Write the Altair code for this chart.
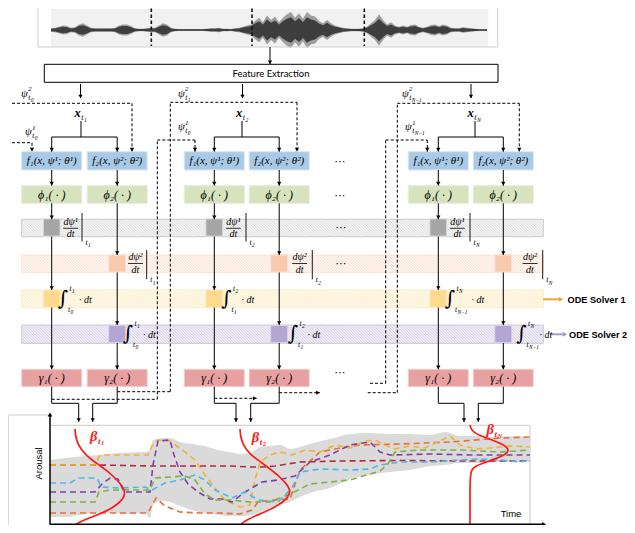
import altair as alt
import pandas as pd

alt.data_transformers.disable_max_rows()

# ---------------- data ----------------
# speech waveform: half-amplitude (px) every 4 px starting at x=51
WAVE_X0, WAVE_STEP, WAVE_CY = 51, 4, 30
wave_amp = [1.5, 2, 3, 4, 3.5, 2, 2.5, 5, 6, 4,
            2, 1.5, 1.5, 1.5, 1.5, 1.5, 2, 4, 5, 5,
            3.5, 1.5, 1.2, 1.2, 1.5, 2, 2, 4, 6, 5,
            2, 1.2, 1, 1, 1, 1, 1, 1, 1, 1.2,
            1.5, 1.5, 2, 1.2, 1.2, 1, 1.5, 2, 3, 4,
            5, 8, 11, 7, 13, 9, 12, 7, 11, 14,
            16, 11, 15, 10, 16, 13, 12, 8, 6, 9,
            6, 4, 3, 2, 1.5, 1.2, 1.2, 1.2, 1.5, 3,
            6, 9, 14, 9, 5, 7, 4, 3, 4, 3,
            4.5, 5, 3, 2, 3, 4.5, 5, 3.5, 5, 4,
            2, 1.5, 1.5, 2.5, 2, 1.5, 1.2, 1, 1, 0.8]
segment_marks = [151.3, 252, 364.3]

# arousal plot: uncertainty ribbon
ribbon_x = [50, 65, 85, 100, 112, 128, 145, 150, 153, 160, 170, 180, 192, 205, 218, 230, 240, 252,
            260, 270, 280, 290, 300, 313, 330, 350, 370, 390, 410, 430, 445, 460, 480, 500, 515, 530]
ribbon_top = [460, 458, 456, 455, 453.5, 452.5, 452, 450, 440, 438.5, 438, 442, 444, 446, 450, 452, 454, 452,
              447, 446, 445, 449, 447, 443, 439, 434, 433, 434, 434, 435, 432, 436, 436, 437, 436, 437]
ribbon_bottom = [517, 517, 514, 513, 513, 514, 513, 518, 505, 501, 502, 506, 510, 513, 515, 516, 516, 515,
                 512, 508, 505, 502, 497, 492, 488, 479, 475, 472, 470, 466, 465, 463, 463, 462, 462, 462]

# arousal traces
orange_x = [50, 100, 148, 152, 156, 165, 180, 200, 220, 240, 252, 258, 275, 290, 300, 320, 340, 360, 400, 450, 500, 530]
orange_y = [513, 513, 513, 505, 498, 506, 512, 513, 513, 514, 510, 502, 500, 499, 470, 452, 448, 445, 444, 442, 438, 437]
red_x = [50, 100, 150, 200, 232, 250, 262, 275, 300, 340, 400, 460, 530]
red_y = [465, 465, 466, 466, 466, 467, 467, 466, 462, 461, 460.5, 461, 461]
yellow_x = [50, 95, 100, 148, 152, 158, 170, 178, 185, 195, 205, 215, 225, 240, 250, 255, 260, 270, 280, 292,
            305, 320, 335, 350, 365, 375, 385, 395, 410, 425, 440, 450, 460, 475, 490, 510, 530]
yellow_y = [465, 465, 455, 455, 446, 440, 441, 447, 452, 460, 475, 488, 500, 507, 505, 480, 462, 455, 452, 455,
            450, 452, 445, 448, 441, 440, 445, 449, 446, 448, 441, 436, 445, 449, 448, 446, 447]
purple_x = [50, 95, 102, 110, 118, 124, 135, 150, 153, 158, 170, 174, 180, 188, 198, 210, 222, 232, 245, 262,
            278, 295, 310, 330, 350, 370, 380, 390, 430, 470, 500, 530]
purple_y = [492, 492, 484, 478, 479, 492, 492, 492, 465, 441, 440, 455, 472, 484, 492, 499, 499, 502, 492, 482,
            480, 476, 462, 455, 445, 442, 452, 455, 454, 455, 455, 455]
cyan_x = [50, 70, 78, 97, 101, 120, 145, 152, 165, 180, 195, 205, 215, 232, 245, 258, 278, 292, 300, 320,
          350, 370, 380, 400, 430, 460, 480, 500, 520, 530]
cyan_y = [483, 483, 478, 478, 487, 488, 487, 490, 483, 480, 475, 480, 490, 498, 492, 500, 502, 488, 472, 469,
          470, 469, 465, 462, 462, 460, 459, 460, 462, 460]
green_x = [50, 95, 99, 110, 150, 155, 170, 185, 195, 205, 215, 230, 250, 270, 290, 300, 310, 330, 350, 370,
           380, 388, 395, 420, 460, 500, 530]
green_y = [502, 502, 492, 490, 490, 478, 477, 476, 480, 494, 500, 500, 502, 502, 494, 489, 484, 482, 480, 474,
           471, 464, 452, 450, 450, 452, 450]
series_names = ["orange", "red", "yellow", "purple", "cyan", "green"]
series_colors = ["#e8703a", "#b5283c", "#f2b430", "#8040a8", "#4cb8ea", "#7fb33f"]

# belief curves beta_t
beta1_x = [75, 75.5, 77.5, 81, 86, 92, 99, 106, 113, 119, 123.5, 125, 123.5, 119, 112, 103, 93, 84, 78, 75.5]
beta1_y = [429, 436, 443, 449, 455, 460, 465, 470, 476, 482, 488, 493, 498, 503, 508, 512.5, 516.5, 520, 523, 525]
beta2_x = [240, 240.5, 242.5, 246, 251, 258, 266, 274, 281, 286.5, 289.5, 290, 288, 283, 275, 265, 255, 247, 242, 240.5]
beta2_y = [429, 436, 443, 449, 455, 460, 466, 472, 478, 484, 489, 492, 497, 502, 507, 512, 516, 520, 523, 525]
betaN_x = [470, 471, 474, 480, 488, 496, 503, 507.5, 508.5, 506, 500, 491, 482, 475, 471.5, 470.5, 470, 470, 470]
betaN_y = [425, 429, 432.5, 435.5, 438.5, 441.5, 444.5, 448, 451, 454, 457, 460.5, 463.5, 466.5, 470, 475, 485, 500, 525]

# ---------------- helpers ----------------
XS = alt.Scale(domain=[8, 627], nice=False, zero=False)
YS = alt.Scale(domain=[8, 525], nice=False, zero=False, reverse=True)


def ex(f="x"):
    return alt.X(f"{f}:Q", scale=XS, axis=None)


def ey(f="y"):
    return alt.Y(f"{f}:Q", scale=YS, axis=None)


layers = []


def rects(rows):
    df = pd.DataFrame(rows, columns=["x", "x2", "y", "y2", "fill", "stroke", "sw"])
    return alt.Chart(df).mark_rect().encode(
        x=ex(), x2="x2:Q", y=ey(), y2="y2:Q",
        fill=alt.Fill("fill:N", scale=None),
        stroke=alt.Stroke("stroke:N", scale=None),
        strokeWidth=alt.StrokeWidth("sw:Q", scale=None))


def rules(segs, dash=None):
    df = pd.DataFrame(segs, columns=["x", "y", "x2", "y2", "color", "sw"])
    kw = {}
    if dash:
        kw["strokeDash"] = dash
    return alt.Chart(df).mark_rule(**kw).encode(
        x=ex(), y=ey(), x2="x2:Q", y2="y2:Q",
        color=alt.Color("color:N", scale=None),
        strokeWidth=alt.StrokeWidth("sw:Q", scale=None))


def poly_to_segs(pts, color="black", sw=1.0):
    return [(pts[i][0], pts[i][1], pts[i + 1][0], pts[i + 1][1], color, sw) for i in range(len(pts) - 1)]


heads = []


def head(x, y, d, color="black", size=18):
    off = 2.0
    shape = {"down": "triangle-down", "right": "triangle-right", "up": "triangle-up"}[d]
    if d == "down":
        y -= off
    elif d == "up":
        y += off
    else:
        x -= off
    heads.append(dict(x=x, y=y, shape=shape, color=color, size=size))


texts = []
GROUPS = {
    "mi": ("Liberation Serif", "italic", "normal"),
    "mbi": ("Liberation Serif", "italic", "bold"),
    "ser": ("DejaVu Serif", "normal", "normal"),
    "sym": ("DejaVu Sans", "normal", "normal"),
    "sans": ("Liberation Sans", "normal", "normal"),
    "sansb": ("Liberation Sans", "normal", "bold"),
    "cal": ("Lato", "normal", "normal"),
}


def T(t, x, y, size, g="mi", color="black", align="center", angle=0):
    f, s, w = GROUPS[g]
    texts.append(dict(t=t, x=x, y=y, size=size, color=color, font=f, style=s, weight=w, align=align, angle=angle))


def tsub(x, y, subsub, size=7.5, g="mi", color="black"):
    T("t", x, y, size, g, color, "left")
    T(subsub, x + size * 0.34, y + size * 0.3, size * 0.72, g, color, "left")


def psi(x, y, sup, subsub):
    T("ψ", x, y, 11, "mi", align="left")
    T(sup, x + 7, y - 4.5, 7, "mi", align="left")
    tsub(x + 7.3, y + 4, subsub)


# ---------------- waveform ----------------
layers.append(rects([(51, 488.3, 9, 46.7, "#f1f1f1", "transparent", 0)]))
wdf = pd.DataFrame({"x": [WAVE_X0 + i * WAVE_STEP for i in range(len(wave_amp))],
                    "top": [WAVE_CY - a * 1.12 for a in wave_amp],
                    "bot": [WAVE_CY + a * 1.12 for a in wave_amp],
                    "top2": [WAVE_CY - a * 0.8 for a in wave_amp],
                    "bot2": [WAVE_CY + a * 0.8 for a in wave_amp]})
layers.append(alt.Chart(wdf).mark_area(color="#8a8a8a", opacity=0.8).encode(
    x=ex(), y=ey("top"), y2="bot:Q"))
layers.append(alt.Chart(wdf).mark_area(color="#333333", opacity=0.9).encode(
    x=ex(), y=ey("top2"), y2="bot2:Q"))
layers.append(rules([(38, 8, 38, 47, "#cfcfcf", 1), (38, 47, 497.7, 47, "#cfcfcf", 1),
                     (497.7, 8, 497.7, 47, "#cfcfcf", 1)]))
layers.append(rules([(mx, 8.5, mx, 46, "#111111", 1.6) for mx in segment_marks], dash=[3.5, 2.5]))

# feature extraction box
layers.append(rects([(44.3, 498, 64.3, 82.3, "white", "black", 1)]))
solid = []
solid += poly_to_segs([(270, 47), (270, 64)])
head(270, 64.3, "down")

# ---------------- bands with hatching ----------------
BX0, BX1 = 21.7, 543.3
bands = [  # y0, y1, fill, stroke, hatch
    (219.3, 236.7, "#f5f5f5", "#c9c9c9", "#d2d2d2"),
    (255.0, 272.7, "#fff7f1", "#f7e4d7", "#f8d9c4"),
    (290.0, 307.7, "#fffaee", "#f9edcc", "#fce6b2"),
    (325.0, 343.3, "#f2eff8", "#cdc6de", "#c9c1de"),
]
layers.append(rects([(BX0, BX1, b[0], b[1], b[2], b[3], 1) for b in bands]))
hatch = []
for y0, y1, _, _, hc in bands:
    h = y1 - y0
    s = BX0 - h
    while s < BX1:
        ax, ay, bx, by = s, y0, s + h, y1
        if ax < BX0:
            ay = y0 + (BX0 - ax)
            ax = BX0
        if bx > BX1:
            by = y1 - (bx - BX1)
            bx = BX1
        if bx > ax:
            hatch.append((ax, ay, bx, by, hc, 0.7))
        s += 2.8
layers.append(rules(hatch))

# ---------------- columns ----------------
cols = [
    dict(X1=51.7, X2=117.2, fe=80.5, stem=81, o1=78.7, o2=92.7, n="1", p="0",
         gfx=70.7, gbx=82, ofx=135.5, obx=146.7, yi=63, ydt=85.5, pi=128, pdt=149.5, xl=74.5),
    dict(X1=214.3, X2=279.2, fe=242.5, stem=242, o1=236, o2=250.7, n="2", p="1",
         gfx=233.3, gbx=246, ofx=299.7, obx=312.3, yi=226.5, ydt=248, pi=293, pdt=314, xl=236),
    dict(X1=438.3, X2=503.3, fe=471, stem=475, o1=464, o2=478.3, n="N", p="N−1",
         gfx=457.3, gbx=470, ofx=530, obx=542.7, yi=450, ydt=478, pi=521.5, pdt=546, xl=467.5),
]
boxes = []
for c in cols:
    X1, X2 = c["X1"], c["X2"]
    for X in (X1, X2):
        boxes.append((X - 30, X + 30, 151.7, 170, "#a8c9e8", "#dde6ef", 1))
        boxes.append((X - 30, X + 30, 185.7, 203.3, "#d6e3bd", "#e6ecdc", 1))
        boxes.append((X - 30, X + 30, 369.3, 386.7, "#e8a1a1", "#efd0d0", 1))
    boxes.append((X1 - 8.5, X1 + 8.5, 218.8, 236.2, "#a6a6a6", "#e4e4e4", 1))
    boxes.append((X2 - 8.5, X2 + 8.5, 254.8, 272.2, "#f9cbad", "#fbe6d8", 1))
    boxes.append((X1 - 8.5, X1 + 8.5, 290.0, 307.4, "#ffd98e", "#fdeec9", 1))
    boxes.append((X2 - 8.5, X2 + 8.5, 325.3, 342.7, "#b3a6d2", "#dcd5ea", 1))

    # solid connectors
    solid += poly_to_segs([(c["fe"], 84), (c["fe"], 98)])
    head(c["fe"], 98.5, "down")
    solid += poly_to_segs([(c["stem"], 121), (c["stem"], 137)])
    solid += poly_to_segs([(X1, 137), (X2, 137)])
    for X, ya, yb in [(X1, 137, 151.7), (X2, 137, 151.7), (X1, 170, 185.7), (X2, 170, 185.7),
                      (X1, 203.3, 219.3), (X1, 236.5, 290), (X1, 307.5, 369.3),
                      (X2, 203.3, 255), (X2, 272.5, 325), (X2, 343, 369.3)]:
        solid += poly_to_segs([(X, ya), (X, yb)])
        head(X, yb, "down")
    solid += poly_to_segs([(X1, 386.7), (X1, 403.3), (c["o1"], 403.3), (c["o1"], 422)])
    solid += poly_to_segs([(X2, 386.7), (X2, 403.3), (c["o2"], 403.3), (c["o2"], 422)])
    head(c["o1"], 422, "down")
    head(c["o2"], 422, "down")

    # texts in boxes
    T("f₁(x, ψ¹; θ¹)", X1, 161.3, 11)
    T("f₂(x, ψ²; θ²)", X2, 161.3, 11)
    T("ϕ₁( · )", X1, 194.8, 12)
    T("ϕ₂( · )", X2, 194.8, 12)
    T("γ₁( · )", X1, 378.3, 12)
    T("γ₂( · )", X2, 378.3, 12)

    # x_t label
    T("x", c["xl"], 113, 12.5, "mbi", align="left")
    tsub(c["xl"] + 6.8, 117.5, c["n"], 8)

    # derivative labels (gray / orange)
    for fx, bx, y1, y2, yl, b0, b1, sup in [(c["gfx"], c["gbx"], 221.8, 234.3, 228.3, 213, 241.5, "¹"),
                                             (c["ofx"], c["obx"], 256.8, 270.3, 263.5, 250, 279.3, "²")]:
        T("dψ" + sup, fx, y1, 10)
        T("dt", fx, y2, 10)
        solid.append((fx - 7.5, yl, fx + 7.5, yl, "black", 0.8))
        solid.append((bx, b0, bx, b1, "black", 0.9))
        tsub(bx + 3.5, b1 + 1, c["n"])
    # integrals (yellow / purple)
    for ix, dtx, yc in [(c["yi"], c["ydt"], 299), (c["pi"], c["pdt"], 334.2)]:
        T("∫", ix, yc, 20, "ser")
        tsub(ix + 6.5, yc - 10, c["n"])
        tsub(ix + 5, yc + 10.5, c["p"])
        T("· dt", dtx, yc + 0.5, 10)

# ψ labels
psi(21, 93.5, "2", "0")
psi(178, 93.5, "2", "1")
psi(402, 93.5, "2", "N−1")
psi(25, 132, "1", "0")
psi(178, 127, "1", "0")
psi(405, 127, "1", "N−1")

# dots
for dx, dy in [(340, 161.5), (340, 196), (341, 227.5), (341, 263.5), (340, 373)]:
    T("⋯", dx, dy, 11, "sym")

layers.append(rects(boxes))

# dashed connectors
dashed = []
for pts, tip in [
    ([(12, 103.3), (132, 103.3), (132, 151.7)], (132, 151.7)),
    ([(12, 142.7), (32, 142.7), (32, 151.7)], (32, 151.7)),
    ([(117.2, 391.7), (170.3, 391.7), (170.3, 102.3), (297, 102.3), (297, 151.7)], (297, 151.7)),
    ([(51.7, 399.3), (157.3, 399.3), (157.3, 140), (195, 140), (195, 151.7)], (195, 151.7)),
    ([(367.7, 392.7), (397.3, 392.7), (397.3, 103.3), (519.3, 103.3), (519.3, 151.7)], (519.3, 151.7)),
    ([(370, 383.3), (385.7, 383.3), (385.7, 140), (427.3, 140), (427.3, 151.7)], (427.3, 151.7)),
]:
    dashed += poly_to_segs(pts)
    head(tip[0], tip[1], "down")
dashed += poly_to_segs([(214.3, 398.3), (256.7, 398.3)])
head(256.7, 398.3, "right")
dashed += poly_to_segs([(279.2, 392.7), (320, 392.7)])
head(320, 392.7, "right")
layers.append(rules(dashed, dash=[3, 2]))

# ODE solver arrows
solid.append((543.3, 299.3, 561, 299.3, "#e9a93b", 2))
head(563, 299.3, "right", "#e9a93b", 26)
solid.append((550, 334.3, 565, 334.3, "#a99bc8", 2))
head(567, 334.3, "right", "#a99bc8", 26)
T("ODE Solver 1", 567.5, 299.6, 9.2, "sansb", align="left")
T("ODE Solver 2", 569, 334.6, 9.2, "sansb", align="left")

T("Feature Extraction", 271, 73.6, 9.5, "cal")

# ---------------- arousal plot ----------------
layers.append(rules([(8.3, 415, 8.3, 525, "#d0d0d0", 1), (8.3, 415, 50, 415, "#d0d0d0", 1),
                     (50, 425.3, 530, 425.3, "#c8c8c8", 1), (530, 425.3, 530, 525, "#c8c8c8", 1)]))
rdf = pd.DataFrame({"x": ribbon_x, "top": ribbon_top, "bot": ribbon_bottom})
layers.append(alt.Chart(rdf).mark_area(color="#dadada", interpolate="monotone").encode(
    x=ex(), y=ey("top"), y2="bot:Q"))
rows = []
for name, xs, ys in [("orange", orange_x, orange_y), ("red", red_x, red_y), ("yellow", yellow_x, yellow_y),
                     ("purple", purple_x, purple_y), ("cyan", cyan_x, cyan_y), ("green", green_x, green_y)]:
    for i, (a, b) in enumerate(zip(xs, ys)):
        rows.append(dict(s=name, i=i, x=a, y=b))
sdf = pd.DataFrame(rows)
layers.append(alt.Chart(sdf).mark_line(strokeDash=[6, 4], strokeWidth=1.6).encode(
    x=ex(), y=ey(), order="i:Q",
    color=alt.Color("s:N", scale=alt.Scale(domain=series_names, range=series_colors), legend=None)))
brows = []
for name, xs, ys in [("b1", beta1_x, beta1_y), ("b2", beta2_x, beta2_y), ("bN", betaN_x, betaN_y)]:
    for i, (a, b) in enumerate(zip(xs, ys)):
        brows.append(dict(b=name, i=i, x=a, y=b))
layers.append(alt.Chart(pd.DataFrame(brows)).mark_line(color="#ff1a1a", strokeWidth=1.7, interpolate="basis").encode(
    x=ex(), y=ey(), order="i:Q", detail="b:N"))
# axes arrows
solid.append((50, 524.5, 50, 415, "black", 1.5))
head(50, 412.5, "up", size=22)
solid.append((50, 524.3, 543, 524.3, "black", 1.5))
head(546, 524.3, "right", size=22)

for bx, by, n in [(90, 436.5, "1"), (251.7, 437.5, "2"), (486.5, 429.5, "N")]:
    T("β", bx, by, 14.5, "mbi", "#ff1a1a", "left")
    tsub(bx + 8, by + 4, n, 9, "mbi", "#ff1a1a")

T("Arousal", 39, 463.5, 9.5, "sans", angle=270)
T("Time", 511, 513.5, 9.5, "sans")

layers.append(rules(solid))
hdf = pd.DataFrame(heads)
layers.append(alt.Chart(hdf).mark_point(filled=True, opacity=1, strokeWidth=0).encode(
    x=ex(), y=ey(), shape=alt.Shape("shape:N", scale=None),
    color=alt.Color("color:N", scale=None), size=alt.Size("size:Q", scale=None)))

tdf = pd.DataFrame(texts)
for key, g in tdf.groupby(["font", "style", "weight", "align", "angle"]):
    font, style, weight, align, angle = key
    layers.append(alt.Chart(g.reset_index(drop=True)).mark_text(
        font=str(font), fontStyle=str(style), fontWeight=str(weight), align=str(align),
        baseline="middle", angle=int(angle)).encode(
        x=ex(), y=ey(), text="t:N",
        size=alt.Size("size:Q", scale=None), color=alt.Color("color:N", scale=None)))

chart = alt.layer(*layers).properties(
    width=619, height=517, padding=0, autosize=alt.AutoSizeParams(type="none")
).configure_view(stroke="transparent")

chart.save("out.html", embed_options={"renderer": "svg", "actions": False})
